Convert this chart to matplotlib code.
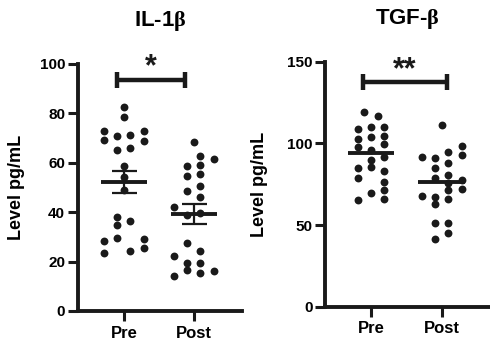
import matplotlib
matplotlib.use("Agg")
import matplotlib.pyplot as plt
import numpy as np

# data
groups = ["Pre", "Post"]

il1b_pre = [82.4, 78.6, 72.9, 72.9, 69.4, 71.0, 71.3, 68.8, 65.0, 65.9, 58.5,
            54.2, 48.8, 38.2, 36.3, 34.7, 28.2, 29.5, 29.1, 23.3, 24.4, 25.5]
il1b_pre_col = [0, 0, -3, 3, -3, -1, 1, 3, -1, 1, 0,
                0, 0, -1, 1, -1, -3, -1, 3, -3, 1, 3]
il1b_post = [68.3, 62.6, 61.7, 58.5, 59.3, 54.5, 55.6, 48.5, 50.4, 46.1, 42.0,
             39.0, 39.8, 27.4, 22.4, 24.4, 19.6, 19.6, 16.5, 15.2, 16.3, 14.2]
il1b_post_col = [0, 1, 3, -1, 1, -1, 1, -1, 1, 1, -3,
                 -1, 1, -1, -3, 1, -1, 1, -1, 1, 3, -3]
il1b_mean = [52.2, 39.3]
il1b_sem = [4.4, 3.9]

tgfb_pre = [119.4, 116.7, 109.0, 110.2, 109.8, 102.4, 103.7, 104.5, 98.0, 99.6, 95.9,
            91.8, 89.8, 84.7, 85.3, 83.3, 78.6, 76.5, 71.4, 69.8, 65.7, 65.3]
tgfb_pre_col = [-1, 1, -2, 0, 2, -2, 0, 2, -2, 2, 0,
                2, 0, -2, 0, 2, -2, 2, 2, 0, 2, -2]
tgfb_post = [111.2, 98.6, 91.8, 90.8, 94.9, 92.7, 84.7, 87.8, 78.6, 80.6, 77.6,
             75.9, 67.8, 67.3, 71.4, 71.8, 65.7, 62.9, 51.0, 51.4, 45.3, 41.2]
tgfb_post_col = [0, 3, -3, -1, 1, 3, -1, 1, -1, 1, 3,
                 1, -3, -1, 1, 3, 1, -1, -1, 1, 1, -1]
tgfb_mean = [93.9, 76.1]

plt.rcParams['font.family'] = ['Liberation Sans', 'DejaVu Sans']
plt.rcParams['font.weight'] = 'bold'
plt.rcParams['mathtext.fontset'] = 'custom'
plt.rcParams['mathtext.rm'] = 'Liberation Serif'
plt.rcParams['mathtext.it'] = 'Liberation Serif'
plt.rcParams['mathtext.bf'] = 'Liberation Serif'

col_step = 0.095
c = '#1a1a1a'


def draw_panel(ax, pre, pre_col, post, post_col, mean, sem, ymax, yticks, title, stars, bar_y, cap_h, star_y):
    x_pos = np.array([1, 2])
    # the dots
    for xp, vals, cols in [(1, pre, pre_col), (2, post, post_col)]:
        xs = xp + np.array(cols) * col_step
        ax.scatter(xs, vals, s=32, color=c, zorder=3, linewidths=0, clip_on=False)
    # mean lines (+ sem)
    ax.hlines(mean, x_pos - 0.33, x_pos + 0.33, color=c, lw=2.8, zorder=4)
    if sem is not None:
        ax.errorbar(x_pos, mean, yerr=sem, fmt='none', ecolor=c, elinewidth=1.6,
                    capsize=9, capthick=1.6, zorder=4)

    # significance bar
    x1, x2 = bar_y[0], bar_y[1]
    y = bar_y[2]
    ax.plot([x1, x2], [y, y], color=c, lw=3.2, clip_on=False, solid_capstyle='butt')
    ax.plot([x1, x1], [y - cap_h, y + cap_h], color=c, lw=3.2, clip_on=False, solid_capstyle='butt')
    ax.plot([x2, x2], [y - cap_h, y + cap_h], color=c, lw=3.2, clip_on=False, solid_capstyle='butt')
    ax.text((x1 + x2) / 2, star_y, stars, ha='center', va='center', fontsize=22,
            fontweight='bold', color=c)

    # axes styling
    ax.set_xlim(0.34, 2.69)
    ax.set_ylim(0, ymax)
    ax.set_yticks(yticks)
    ax.set_xticks(x_pos)
    ax.set_xticklabels(groups, fontsize=12, fontweight='bold')
    for lab in ax.get_yticklabels():
        lab.set_fontsize(11)
        lab.set_fontweight('bold')
    ax.spines['top'].set_visible(False)
    ax.spines['right'].set_visible(False)
    for s in ['left', 'bottom']:
        ax.spines[s].set_linewidth(2.8)
        ax.spines[s].set_color(c)
    ax.tick_params(axis='both', width=2.2, length=7.5, color=c, pad=1.5)
    ax.tick_params(axis='x', pad=3)
    ax.set_ylabel('Level pg/mL', fontsize=13, fontweight='bold')
    ax.set_title(title, fontsize=16, fontweight='bold', pad=27)


fig = plt.figure(figsize=(4.9, 3.51), dpi=100)
ax1 = fig.add_axes([0.1586, 0.114, 0.3353, 0.7037])
ax2 = fig.add_axes([0.6633, 0.1262, 0.3347, 0.698])

draw_panel(ax1, il1b_pre, il1b_pre_col, il1b_post, il1b_post_col, il1b_mean, il1b_sem,
           100, [0, 20, 40, 60, 80, 100], r'IL-1$\beta$', '*', (0.895, 1.87, 93.5), 3.4, 98.5)
draw_panel(ax2, tgfb_pre, tgfb_pre_col, tgfb_post, tgfb_post_col, tgfb_mean, None,
           150, [0, 50, 100, 150], r'TGF-$\beta$', '**', (0.89, 2.07, 137.8), 4.9, 145.0)
ax2.set_xlim(0.35, 2.67)

ax1.yaxis.set_label_coords(-0.32, 0.5)
ax2.yaxis.set_label_coords(-0.35, 0.5)

fig.savefig("out.png", dpi=100)
